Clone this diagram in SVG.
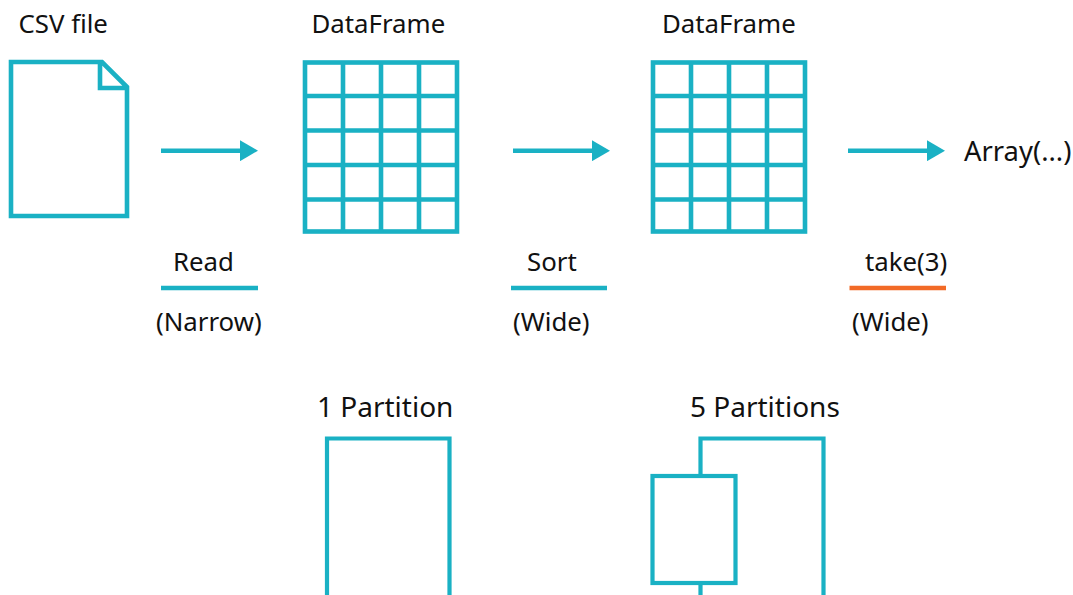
<svg xmlns="http://www.w3.org/2000/svg" width="1073" height="595" viewBox="0 0 1073 595">
<style>
.s{fill:none;stroke:#1AB1C4;stroke-width:4.6}
.p{fill:none;stroke:#1AB1C4;stroke-width:4.2}
.t{font-family:"Noto Sans","Open Sans",sans-serif;font-size:25.8px;fill:#111}
.b{font-size:28px}
.a{font-size:27.4px}
.u{stroke:#1AB1C4;stroke-width:4.6;fill:none}
</style>
<defs>
<marker id="ah" markerUnits="userSpaceOnUse" markerWidth="18" markerHeight="21" refX="2" refY="10.5" orient="auto"><path d="M0 0L18 10.500L0 21Z" fill="#1AB1C4"/></marker>
<g id="grid">
<rect class="s" x="2.500" y="2.500" width="152" height="169"/>
<path class="s" d="M40.500 2.500V171.500M78.500 2.500V171.500M116.500 2.500V171.500M2.500 36H154.500M2.500 70.500H154.500M2.500 105H154.500M2.500 139.500H154.500"/>
</g>
</defs>
<rect width="1073" height="595" fill="#fff"/>
<g id="csv"><text class="t" x="18.500" y="33">CSV file</text>
<path class="s" d="M11 62H102L127 87V216H11ZM100 62V88H127"/></g>
<g id="df1"><text class="t" x="311.500" y="33">DataFrame</text><use href="#grid" x="302.500" y="60"/></g>
<g id="df2"><text class="t" x="662" y="33">DataFrame</text><use href="#grid" x="650.500" y="60"/></g>
<g id="array"><text class="t a" x="964" y="161">Array(...)</text></g>
<g id="connectors">
<path class="u" d="M161 150.700H242" marker-end="url(#ah)"/>
<path class="u" d="M513 150.700H594" marker-end="url(#ah)"/>
<path class="u" d="M848 150.700H929" marker-end="url(#ah)"/>
</g>
<g id="read"><text class="t" x="173" y="271">Read</text><path class="u" d="M161 288H258"/><text class="t" x="156" y="331">(Narrow)</text></g>
<g id="sort"><text class="t" x="527" y="271">Sort</text><path class="u" d="M511 288H607"/><text class="t" x="513" y="331">(Wide)</text></g>
<g id="take"><text class="t" x="865" y="271">take(3)</text><path d="M849.500 288H946" fill="none" stroke="#F26A26" stroke-width="4.600"/><text class="t" x="852" y="331">(Wide)</text></g>
<g id="p1"><text class="t b" x="317" y="416.500">1 Partition</text><path class="p" d="M327 595V438.500H449.500V595"/></g>
<g id="p5"><text class="t b" x="690" y="416.500">5 Partitions</text><path class="p" d="M700.500 475V438.500H823.500V595M700.500 583V595"/><rect class="p" x="652.500" y="476" width="83" height="107"/></g>
</svg>
